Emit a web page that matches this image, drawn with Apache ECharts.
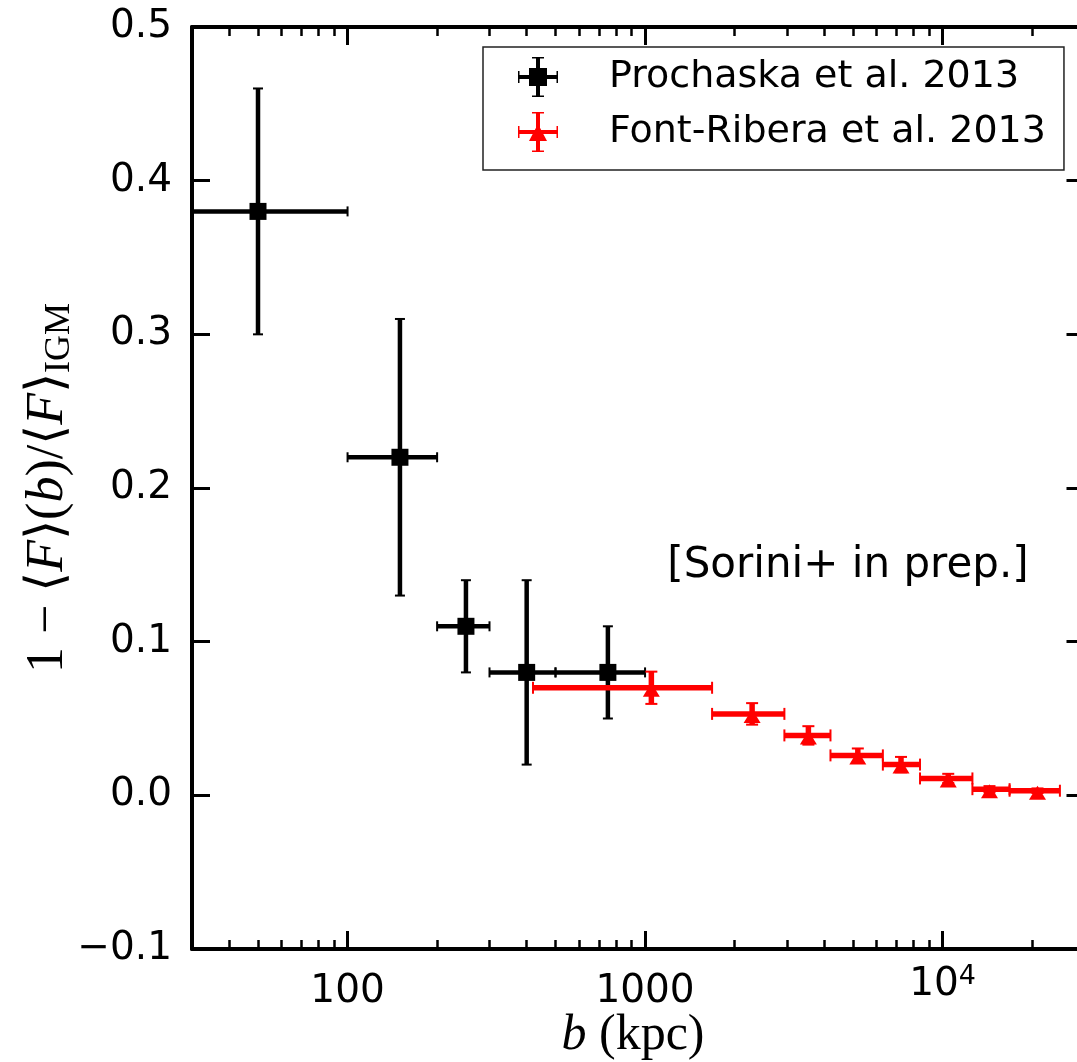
<!DOCTYPE html>
<html><head><meta charset="utf-8">
<script src="https://cdn.jsdelivr.net/npm/echarts@6/dist/echarts.min.js"></script>
<style>html,body{margin:0;padding:0;overflow:hidden;background:#fff}#c{width:1090px;height:1062px}</style>
</head><body><div id="c"></div><script>
// ---- data ----
const prochaskaB = [50, 150, 250, 400, 750];
const prochaskaBLow = [20, 100, 200, 300, 500];
const prochaskaBHigh = [100, 200, 300, 500, 1000];
const prochaskaVal = [0.38, 0.22, 0.11, 0.08, 0.08];
const prochaskaLow = [0.30, 0.13, 0.08, 0.02, 0.05];
const prochaskaHigh = [0.46, 0.31, 0.14, 0.14, 0.11];

const fontRiberaB = [1050, 2290, 3540, 5190, 7250, 10450, 14380, 20850];
const fontRiberaBLow = [420, 1680, 2940, 4200, 6300, 8400, 12600, 16800];
const fontRiberaBHigh = [1680, 2940, 4200, 6300, 8400, 12600, 16800, 24800];
const fontRiberaVal = [0.070, 0.053, 0.039, 0.026, 0.020, 0.011, 0.004, 0.003];
const fontRiberaErr = [0.0105, 0.007, 0.006, 0.0045, 0.005, 0.003, 0.002, 0.0015];

const seriesNames = ['Prochaska et al. 2013', 'Font-Ribera et al. 2013'];
const xMajorTicks = [100, 1000, 10000];
const xMinorTicks = [40, 50, 60, 70, 80, 90, 200, 300, 400, 500, 600, 700, 800, 900,
  2000, 3000, 4000, 5000, 6000, 7000, 8000, 9000, 20000];
const xMin = 30, xMax = 30000;
const yMin = -0.1, yMax = 0.5, yStep = 0.1;

// ---- build ----
const blackData = prochaskaB.map((b, i) => [b, prochaskaVal[i], prochaskaBLow[i], prochaskaBHigh[i], prochaskaLow[i], prochaskaHigh[i]]);
const redData = fontRiberaB.map((b, i) => [b, fontRiberaVal[i], fontRiberaBLow[i], fontRiberaBHigh[i], fontRiberaVal[i] - fontRiberaErr[i], fontRiberaVal[i] + fontRiberaErr[i]]);

function errRender(color, lw, capHalf, capW, marker) {
  return function (params, api) {
    const x = api.value(0), y = api.value(1);
    const c = api.coord([x, y]);
    const pl = api.coord([api.value(2), y]), ph = api.coord([api.value(3), y]);
    const pb = api.coord([x, api.value(4)]), pt = api.coord([x, api.value(5)]);
    const st = { stroke: color, lineWidth: lw };
    const cs = { stroke: color, lineWidth: capW };
    const ch = [
      { type: 'line', shape: { x1: pl[0], y1: c[1], x2: ph[0], y2: c[1] }, style: st },
      { type: 'line', shape: { x1: c[0], y1: pt[1], x2: c[0], y2: pb[1] }, style: st },
      { type: 'line', shape: { x1: pl[0], y1: c[1] - capHalf, x2: pl[0], y2: c[1] + capHalf }, style: cs },
      { type: 'line', shape: { x1: ph[0], y1: c[1] - capHalf, x2: ph[0], y2: c[1] + capHalf }, style: cs },
      { type: 'line', shape: { x1: c[0] - capHalf, y1: pt[1], x2: c[0] + capHalf, y2: pt[1] }, style: cs },
      { type: 'line', shape: { x1: c[0] - capHalf, y1: pb[1], x2: c[0] + capHalf, y2: pb[1] }, style: cs }
    ];
    if (marker === 'square') {
      ch.push({ type: 'rect', shape: { x: c[0] - 8.5, y: c[1] - 8.5, width: 17, height: 17 }, style: { fill: color } });
    } else {
      ch.push({ type: 'polygon', shape: { points: [[c[0], c[1] - 5], [c[0] + 8.5, c[1] + 9], [c[0] - 8.5, c[1] + 9]] }, style: { fill: color } });
    }
    return { type: 'group', children: ch };
  };
}

const iconSquare = 'path://M0 18H40V22H0Z M18 0H22V40H18Z M11 11H29V29H11Z M0 14H1.5V26H0Z M38.5 14H40V26H38.5Z M14 0H26V1.5H14Z M14 38.5H26V40H14Z';
const iconTri = 'path://M0 18H40V22H0Z M18 0H22V40H18Z M11 29L20 12L29 29Z M0 14H1.5V26H0Z M38.5 14H40V26H38.5Z M14 0H26V1.5H14Z M14 38.5H26V40H14Z';

const tickFont = 'DejaVu Sans';
const baseX = { type: 'log', logBase: 10, min: xMin, max: xMax, gridIndex: 0, splitLine: { show: false }, minorTick: { show: false } };
const lineSt = { show: true, onZero: false, lineStyle: { color: '#000', width: 4 } };
const noLine = { show: false, onZero: false };

const chart = echarts.init(document.getElementById('c'), null, { renderer: 'canvas' });
chart.setOption({
  animation: false,
  backgroundColor: '#fff',
  grid: { left: 192, top: 27, width: 892.5, height: 922, containLabel: false },
  xAxis: [
    Object.assign({}, baseX, {
      position: 'bottom', axisLine: lineSt,
      axisTick: { show: true, inside: true, length: 18, customValues: xMajorTicks, lineStyle: { color: '#000', width: 3 } },
      axisLabel: {
        show: true, customValues: xMajorTicks, margin: 14, color: '#000', fontFamily: tickFont, fontSize: 39,
        formatter: v => (Math.abs(v - 10000) < 1 ? '{a|10}{s|4}' : '{p|' + Math.round(v) + '}'),
        rich: {
          p: { fontFamily: tickFont, fontSize: 39, lineHeight: 58, color: '#000' },
          a: { fontFamily: tickFont, fontSize: 39, lineHeight: 44, color: '#000' },
          s: { fontFamily: tickFont, fontSize: 27, lineHeight: 16, verticalAlign: 'top', color: '#000' }
        }
      }
    }),
    Object.assign({}, baseX, {
      position: 'bottom', axisLine: noLine, axisLabel: { show: false },
      axisTick: { show: true, inside: true, length: 9, customValues: xMinorTicks, lineStyle: { color: '#000', width: 2.5 } }
    }),
    Object.assign({}, baseX, {
      position: 'top', axisLine: lineSt, axisLabel: { show: false },
      axisTick: { show: true, inside: true, length: 18, customValues: xMajorTicks, lineStyle: { color: '#000', width: 3 } }
    }),
    Object.assign({}, baseX, {
      position: 'top', axisLine: noLine, axisLabel: { show: false },
      axisTick: { show: true, inside: true, length: 9, customValues: xMinorTicks, lineStyle: { color: '#000', width: 2.5 } }
    })
  ],
  yAxis: [
    {
      type: 'value', position: 'left', min: yMin, max: yMax, interval: yStep,
      splitLine: { show: false }, axisLine: lineSt,
      axisTick: { show: true, inside: true, length: 18, lineStyle: { color: '#000', width: 3 } },
      axisLabel: {
        margin: 20, color: '#000', fontFamily: tickFont, fontSize: 39,
        formatter: v => (v < -1e-9 ? '\u2212' : '') + Math.abs(v).toFixed(1)
      }
    },
    {
      type: 'value', position: 'right', min: yMin, max: yMax, interval: yStep,
      splitLine: { show: false }, axisLine: lineSt, axisLabel: { show: false },
      axisTick: { show: true, inside: true, length: 18, lineStyle: { color: '#000', width: 3 } }
    }
  ],
  legend: {
    show: true, orient: 'vertical', left: 483, top: 47,
    padding: [10, 18, 18, 35], itemGap: 15, itemWidth: 40, itemHeight: 40,
    backgroundColor: '#fff', borderColor: '#222', borderWidth: 1.5, borderRadius: 0,
    textStyle: { fontFamily: tickFont, fontSize: 38, lineHeight: 40, color: '#000', padding: [0, 0, 0, 46] },
    data: [
      { name: seriesNames[0], icon: iconSquare },
      { name: seriesNames[1], icon: iconTri }
    ],
    selectedMode: false
  },
  series: [
    {
      name: seriesNames[0], type: 'custom', xAxisIndex: 0, yAxisIndex: 0, clip: true,
      itemStyle: { color: '#000' },
      encode: { x: [0, 2, 3], y: [1, 4, 5] },
      renderItem: errRender('#000', 4.5, 5, 2, 'square'),
      data: blackData, z: 2
    },
    {
      name: seriesNames[1], type: 'custom', xAxisIndex: 0, yAxisIndex: 0, clip: true,
      itemStyle: { color: '#ff0000' },
      encode: { x: [0, 2, 3], y: [1, 4, 5] },
      renderItem: errRender('#ff0000', 5.5, 6, 2, 'triangle'),
      data: redData, z: 3
    }
  ],
  graphic: [
    {
      type: 'text', x: 848, y: 566, z: 10,
      style: { text: '[Sorini+ in prep.]', fontFamily: tickFont, fontSize: 42, fill: '#000', align: 'center', verticalAlign: 'middle' }
    },
    {
      type: 'text', x: 633, y: 1036, z: 10,
      style: {
        text: '{i|b} (kpc)', fontFamily: 'Liberation Serif', fontSize: 50, fill: '#000', align: 'center', verticalAlign: 'middle',
        rich: { i: { fontFamily: 'Liberation Serif', fontStyle: 'italic', fontSize: 50, fill: '#000' } }
      }
    },
    {
      type: 'text', x: 48, y: 488, rotation: Math.PI / 2, z: 10,
      style: {
        text: '{n|1 \u2212 \u27E8}{i|F}{n|\u27E9(}{i|b}{n|)/\u27E8}{i|F}{n|\u27E9}{s|IGM}',
        align: 'center', verticalAlign: 'middle', fill: '#000',
        rich: {
          n: { fontFamily: 'Liberation Serif', fontSize: 52, lineHeight: 60, fill: '#000' },
          i: { fontFamily: 'Liberation Serif', fontStyle: 'italic', fontSize: 52, lineHeight: 60, fill: '#000' },
          s: { fontFamily: 'Liberation Serif', fontSize: 36, lineHeight: 30, verticalAlign: 'bottom', fill: '#000' }
        }
      }
    }
  ]
});
</script></body></html>
